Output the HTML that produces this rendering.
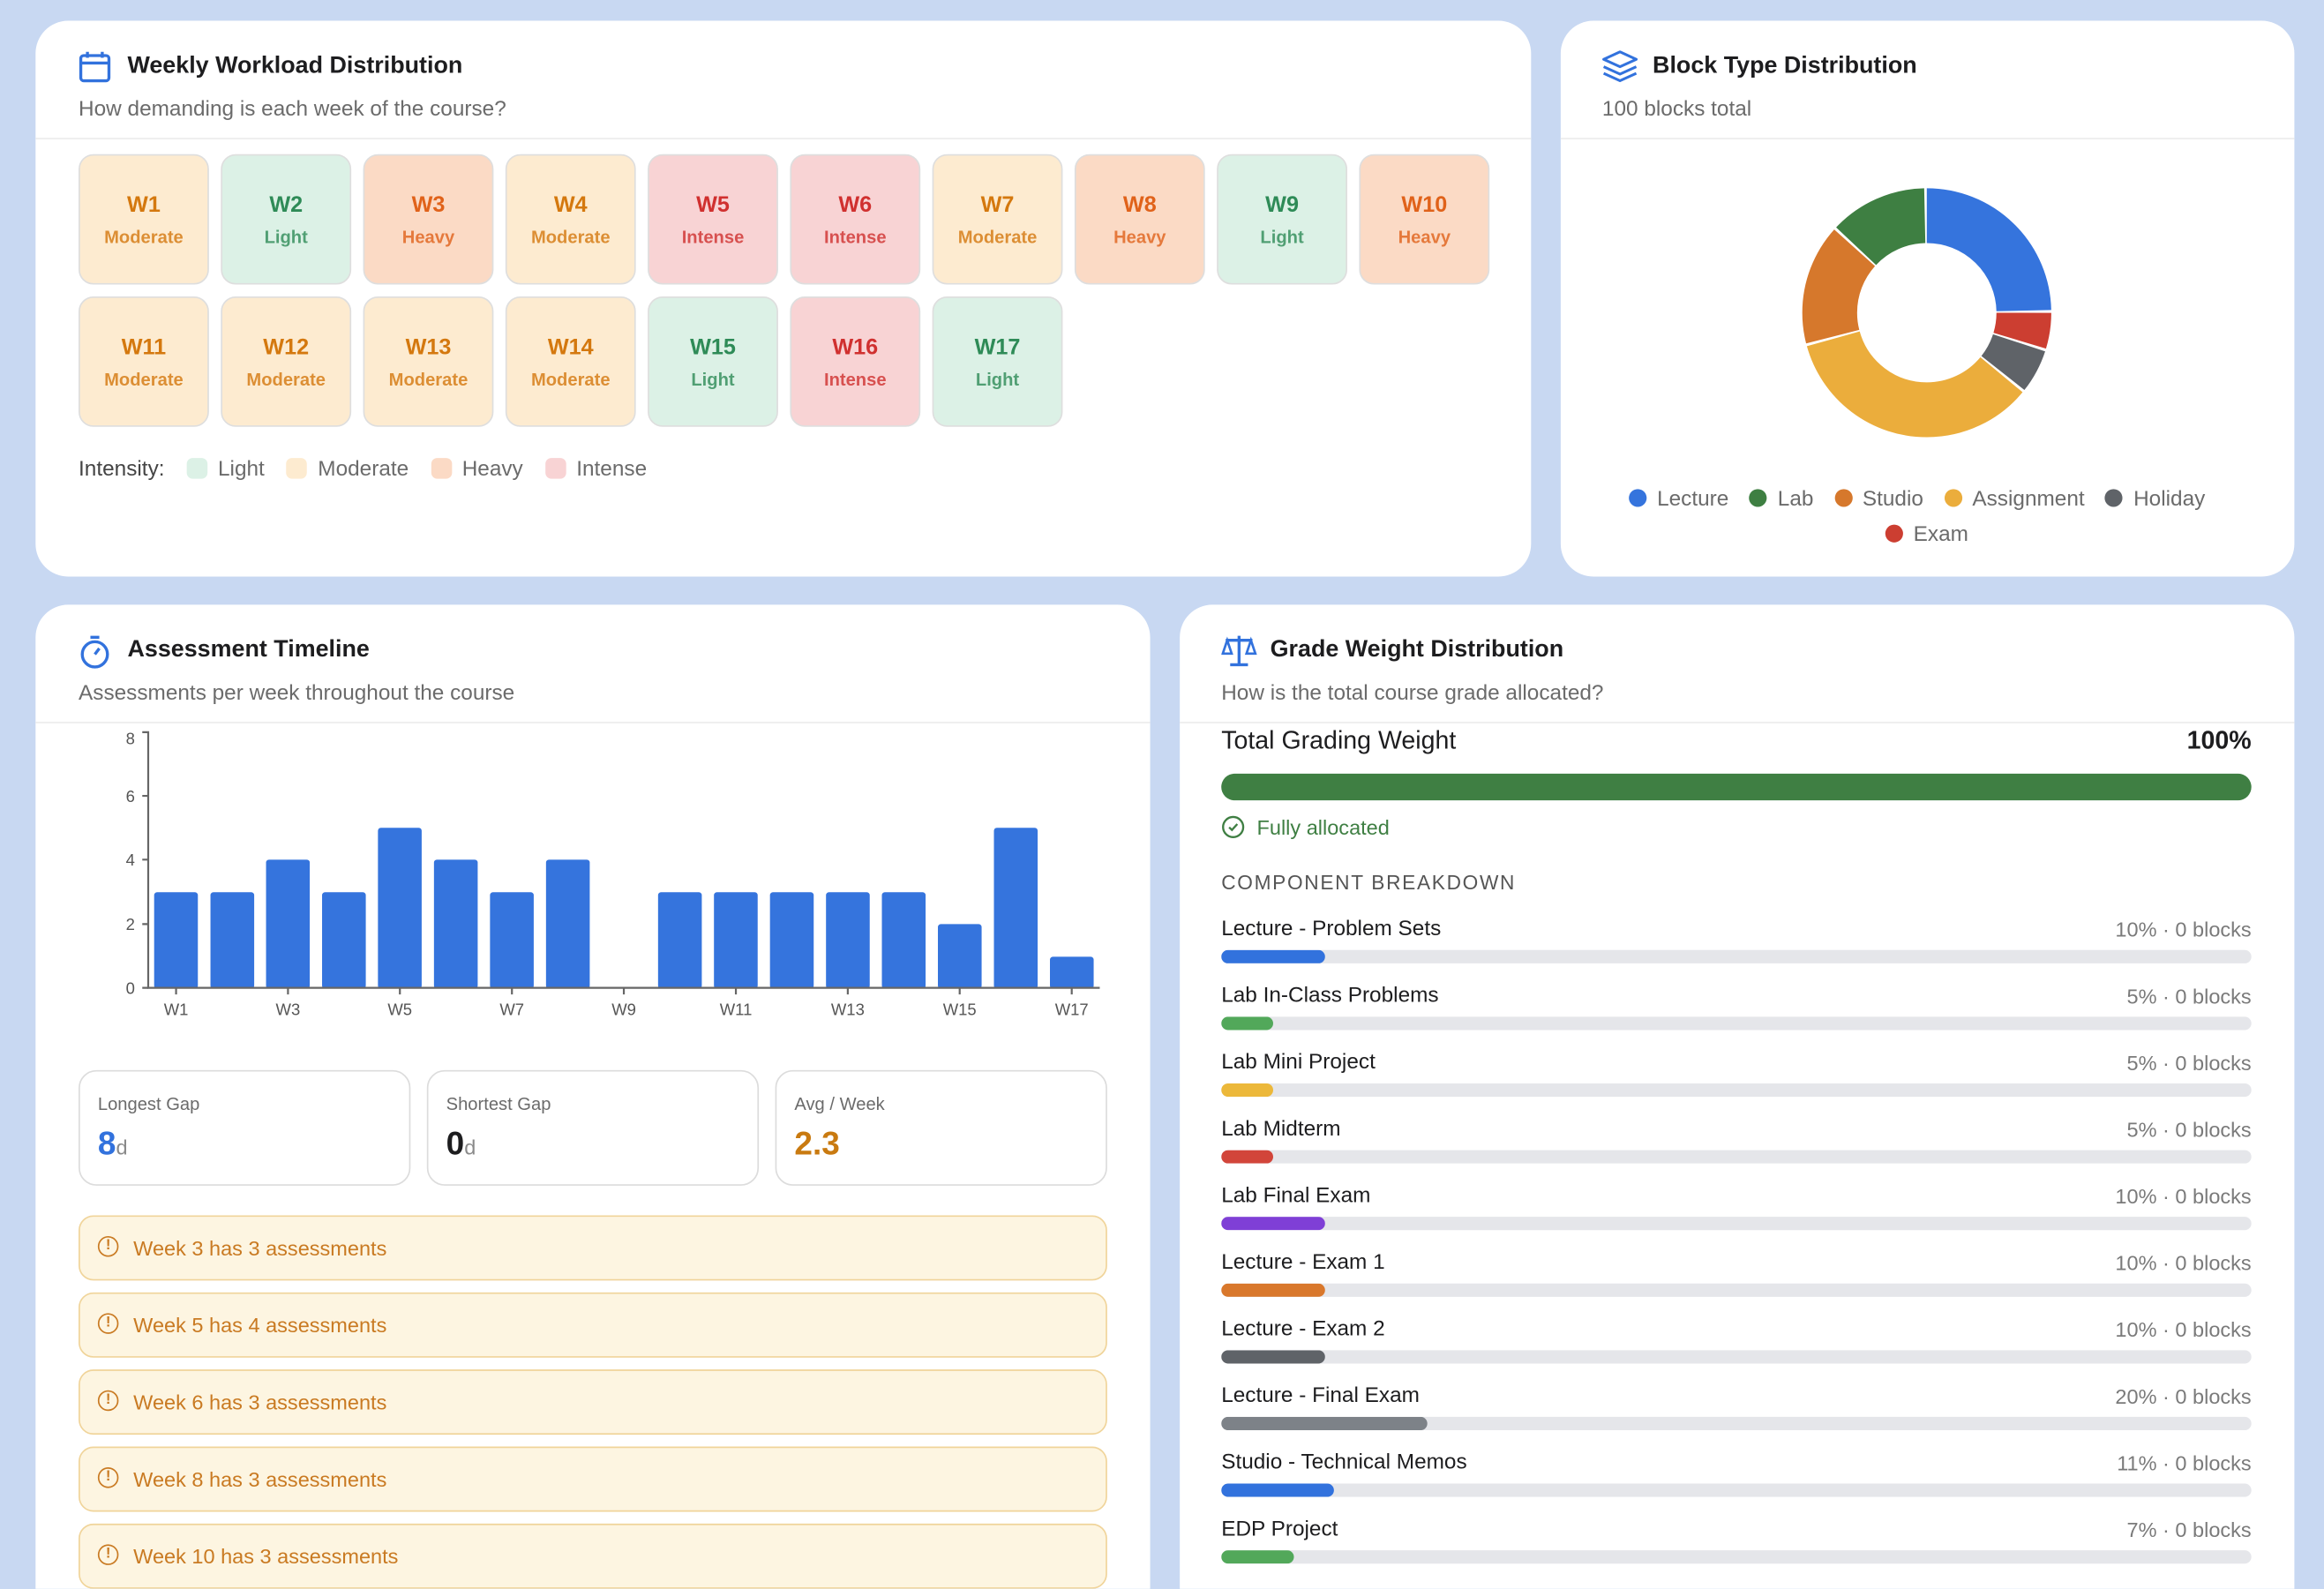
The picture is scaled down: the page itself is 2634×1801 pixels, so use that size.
<!DOCTYPE html>
<html><head><meta charset="utf-8"><style>
html,body{margin:0;padding:0;overflow:hidden;background:#c8d8f2;width:2634px;height:1800px}
#s{position:absolute;left:0;top:0;width:1568px;height:1072px;overflow:hidden;transform:scale(1.67985);transform-origin:0 0;font-family:"Liberation Sans",sans-serif;color:#1d1d1f}
.a{position:absolute}
.card{position:absolute;background:#fff;border-radius:22px}
.t{position:absolute;font-size:16px;font-weight:bold;color:#1d1d1f;white-space:nowrap}
.sub{position:absolute;font-size:14.5px;color:#6b6b6b;white-space:nowrap}
.hr{position:absolute;height:1px;background:#ececec}
.tile{position:absolute;width:86px;height:86px;border-radius:10px;border:1px solid #dedede;text-align:center}
.tile b{display:block;margin-top:25px;font-size:15px}
.tile span{display:block;margin-top:6px;font-size:12px;font-weight:bold;opacity:.8}
.M{background:#fdebd0;color:#d4780e}.L{background:#dcf1e6;color:#2e8b57}.H{background:#fbdac5;color:#e0621a}.I{background:#f8d3d4;color:#d0302f}
.lg{position:absolute;font-size:14.5px;color:#6b6b6b;white-space:nowrap}
.sw{display:inline-block;width:14px;height:14px;border-radius:4px;vertical-align:-2px;margin:0 7px 0 15px}
.dot{display:inline-block;width:12px;height:12px;border-radius:50%;vertical-align:-1px;margin:0 7px 0 14px}
.stat{position:absolute;top:722px;width:222px;height:76px;border:1px solid #dcdcdc;border-radius:12px}
.stat .l{position:absolute;left:12px;top:15px;font-size:12px;color:#6b6b6b}
.stat .v{position:absolute;left:12px;top:36px;font-size:22px;font-weight:bold}
.stat .v small{font-size:14px;font-weight:normal;color:#8a8a8a}
.al{position:absolute;left:53px;width:692px;height:42px;background:#fdf5e1;border:1px solid #f0d49a;border-radius:10px;color:#c97a22;font-size:14px}
.al i{position:absolute;left:12px;top:13px;width:12px;height:12px;border:1.5px solid #c97a22;border-radius:50%;font-style:normal;font-size:10px;line-height:12px;text-align:center;font-weight:bold}
.al span{position:absolute;left:36px;top:13px}
.row{position:absolute;left:824px;width:695px;height:40px}
.row .n{position:absolute;left:0;top:0;font-size:14.5px;color:#1d1d1f}
.row .p{position:absolute;right:0;top:0;font-size:14px;color:#7a7a7a}
.row .tr{position:absolute;left:0;top:15px;width:695px;height:9px;border-radius:5px;background:#e5e6ea;overflow:hidden}
.row .f{height:9px;border-radius:5px}
</style></head><body><div id="s">

<!-- Card 1 -->
<div class="card" style="left:24px;top:14px;width:1009px;height:375px"></div>
<svg class="a" style="left:53px;top:34px" width="22" height="22" viewBox="0 0 22 22"><rect x="1.5" y="3.5" width="19" height="17" rx="2" fill="none" stroke="#3272dd" stroke-width="2"/><line x1="1.5" y1="8.5" x2="20.5" y2="8.5" stroke="#3272dd" stroke-width="2"/><line x1="6" y1="1" x2="6" y2="5" stroke="#3272dd" stroke-width="2"/><line x1="16" y1="1" x2="16" y2="5" stroke="#3272dd" stroke-width="2"/></svg>
<div class="t" style="left:86px;top:36px">Weekly Workload Distribution</div>
<div class="sub" style="left:53px;top:66px">How demanding is each week of the course?</div>
<div class="hr" style="left:24px;top:93px;width:1009px"></div>

<div class="tile M" style="left:53px;top:104px"><b>W1</b><span>Moderate</span></div>
<div class="tile L" style="left:149px;top:104px"><b>W2</b><span>Light</span></div>
<div class="tile H" style="left:245px;top:104px"><b>W3</b><span>Heavy</span></div>
<div class="tile M" style="left:341px;top:104px"><b>W4</b><span>Moderate</span></div>
<div class="tile I" style="left:437px;top:104px"><b>W5</b><span>Intense</span></div>
<div class="tile I" style="left:533px;top:104px"><b>W6</b><span>Intense</span></div>
<div class="tile M" style="left:629px;top:104px"><b>W7</b><span>Moderate</span></div>
<div class="tile H" style="left:725px;top:104px"><b>W8</b><span>Heavy</span></div>
<div class="tile L" style="left:821px;top:104px"><b>W9</b><span>Light</span></div>
<div class="tile H" style="left:917px;top:104px"><b>W10</b><span>Heavy</span></div>
<div class="tile M" style="left:53px;top:200px"><b>W11</b><span>Moderate</span></div>
<div class="tile M" style="left:149px;top:200px"><b>W12</b><span>Moderate</span></div>
<div class="tile M" style="left:245px;top:200px"><b>W13</b><span>Moderate</span></div>
<div class="tile M" style="left:341px;top:200px"><b>W14</b><span>Moderate</span></div>
<div class="tile L" style="left:437px;top:200px"><b>W15</b><span>Light</span></div>
<div class="tile I" style="left:533px;top:200px"><b>W16</b><span>Intense</span></div>
<div class="tile L" style="left:629px;top:200px"><b>W17</b><span>Light</span></div>

<div class="lg" style="left:53px;top:309px"><span style="color:#444">Intensity:</span><span class="sw" style="background:#dcf1e6"></span>Light<span class="sw" style="background:#fdebd0"></span>Moderate<span class="sw" style="background:#fbdac5"></span>Heavy<span class="sw" style="background:#f8d3d4"></span>Intense</div>

<!-- Card 2 -->
<div class="card" style="left:1053px;top:14px;width:495px;height:375px"></div>
<svg class="a" style="left:1081px;top:34px" width="24" height="22" viewBox="0 0 24 22"><path d="M12 1 L23 6 L12 11 L1 6 Z" fill="none" stroke="#3272dd" stroke-width="1.8" stroke-linejoin="round"/><path d="M1 11 L12 16 L23 11" fill="none" stroke="#3272dd" stroke-width="1.8" stroke-linejoin="round"/><path d="M1 15.5 L12 20.5 L23 15.5" fill="none" stroke="#3272dd" stroke-width="1.8" stroke-linejoin="round"/></svg>
<div class="t" style="left:1115px;top:36px">Block Type Distribution</div>
<div class="sub" style="left:1081px;top:66px">100 blocks total</div>
<div class="hr" style="left:1053px;top:93px;width:495px"></div>
<svg class="a" style="left:1200px;top:111px" width="200" height="200" viewBox="0 0 200 200">
<g transform="rotate(-90 100 100)" fill="none" stroke-width="37">
<circle cx="100" cy="100" r="65.5" stroke="#3574dd" stroke-dasharray="101.4 411.55" stroke-dashoffset="0"/>
<circle cx="100" cy="100" r="65.5" stroke="#cc3e31" stroke-dasharray="19.1 411.55" stroke-dashoffset="-102.9"/>
<circle cx="100" cy="100" r="65.5" stroke="#5f6368" stroke-dasharray="23.2 411.55" stroke-dashoffset="-123.5"/>
<circle cx="100" cy="100" r="65.5" stroke="#ebad3c" stroke-dasharray="142.5 411.55" stroke-dashoffset="-148.2"/>
<circle cx="100" cy="100" r="65.5" stroke="#d6782c" stroke-dasharray="64.3 411.55" stroke-dashoffset="-292.2"/>
<circle cx="100" cy="100" r="65.5" stroke="#3e7f42" stroke-dasharray="52 411.55" stroke-dashoffset="-358"/>
</g></svg>
<div class="lg" style="left:1085px;top:329px"><span class="dot" style="background:#3574dd"></span>Lecture<span class="dot" style="background:#3e7f42"></span>Lab<span class="dot" style="background:#d6782c"></span>Studio<span class="dot" style="background:#ebad3c"></span>Assignment<span class="dot" style="background:#5f6368"></span>Holiday</div>
<div class="lg" style="left:1258px;top:353px"><span class="dot" style="background:#cc3e31"></span>Exam</div>

<!-- Card 3 -->
<div class="card" style="left:24px;top:408px;width:752px;height:700px"></div>
<svg class="a" style="left:53px;top:428px" width="22" height="24" viewBox="0 0 22 24"><circle cx="11" cy="13.5" r="8.5" fill="none" stroke="#3272dd" stroke-width="2"/><line x1="8" y1="2" x2="14" y2="2" stroke="#3272dd" stroke-width="2"/><line x1="11" y1="13.5" x2="14" y2="9.5" stroke="#3272dd" stroke-width="2"/></svg>
<div class="t" style="left:86px;top:430px">Assessment Timeline</div>
<div class="sub" style="left:53px;top:460px">Assessments per week throughout the course</div>
<div class="hr" style="left:24px;top:487px;width:752px"></div>
<svg class="a" style="left:0;top:0" width="780" height="700" font-family="Liberation Sans, sans-serif" font-size="11" fill="#555">
<g fill="#3574dd">
<rect x="104" y="602" width="29.5" height="65" rx="2"/>
<rect x="142" y="602" width="29.5" height="65" rx="2"/>
<rect x="179.5" y="580" width="29.5" height="87" rx="2"/>
<rect x="217.3" y="602" width="29.5" height="65" rx="2"/>
<rect x="255" y="558.5" width="29.5" height="108.5" rx="2"/>
<rect x="292.8" y="580" width="29.5" height="87" rx="2"/>
<rect x="330.6" y="602" width="29.5" height="65" rx="2"/>
<rect x="368.4" y="580" width="29.5" height="87" rx="2"/>
<rect x="444" y="602" width="29.5" height="65" rx="2"/>
<rect x="481.7" y="602" width="29.5" height="65" rx="2"/>
<rect x="519.5" y="602" width="29.5" height="65" rx="2"/>
<rect x="557.3" y="602" width="29.5" height="65" rx="2"/>
<rect x="595" y="602" width="29.5" height="65" rx="2"/>
<rect x="632.8" y="623.5" width="29.5" height="43.5" rx="2"/>
<rect x="670.6" y="558.5" width="29.5" height="108.5" rx="2"/>
<rect x="708.4" y="645.5" width="29.5" height="21.5" rx="2"/>
</g>
<g stroke="#666" stroke-width="1.3" fill="none">
<path d="M96 494 H100 V666.5 H742"/>
<path d="M96 537 H100 M96 580 H100 M96 623.5 H100 M96 666.5 H100"/>
<path d="M118.8 667 V671 M194.3 667 V671 M269.8 667 V671 M345.4 667 V671 M420.9 667 V671 M496.5 667 V671 M572 667 V671 M647.5 667 V671 M723.1 667 V671"/>
</g>
<g text-anchor="end"><text x="91" y="502">8</text><text x="91" y="541">6</text><text x="91" y="584">4</text><text x="91" y="627.5">2</text><text x="91" y="670.5">0</text></g>
<g text-anchor="middle"><text x="118.8" y="685">W1</text><text x="194.3" y="685">W3</text><text x="269.8" y="685">W5</text><text x="345.4" y="685">W7</text><text x="420.9" y="685">W9</text><text x="496.5" y="685">W11</text><text x="572" y="685">W13</text><text x="647.5" y="685">W15</text><text x="723.1" y="685">W17</text></g>
</svg>
<div class="stat" style="left:53px"><div class="l">Longest Gap</div><div class="v" style="color:#3272dd">8<small>d</small></div></div>
<div class="stat" style="left:288px"><div class="l">Shortest Gap</div><div class="v" style="color:#1d1d1f">0<small>d</small></div></div>
<div class="stat" style="left:523px"><div class="l">Avg / Week</div><div class="v" style="color:#c97a10">2.3</div></div>
<div class="al" style="top:820px"><i>!</i><span>Week 3 has 3 assessments</span></div>
<div class="al" style="top:872px"><i>!</i><span>Week 5 has 4 assessments</span></div>
<div class="al" style="top:924px"><i>!</i><span>Week 6 has 3 assessments</span></div>
<div class="al" style="top:976px"><i>!</i><span>Week 8 has 3 assessments</span></div>
<div class="al" style="top:1028px"><i>!</i><span>Week 10 has 3 assessments</span></div>

<!-- Card 4 -->
<div class="card" style="left:796px;top:408px;width:752px;height:700px"></div>
<svg class="a" style="left:824px;top:428px" width="24" height="22" viewBox="0 0 24 22"><line x1="12" y1="1" x2="12" y2="20" stroke="#3272dd" stroke-width="2"/><line x1="3" y1="4" x2="21" y2="4" stroke="#3272dd" stroke-width="2"/><line x1="6" y1="20.5" x2="18" y2="20.5" stroke="#3272dd" stroke-width="2"/><path d="M4 4 L1 13 H7 Z M20 4 L17 13 H23 Z" fill="none" stroke="#3272dd" stroke-width="1.6"/></svg>
<div class="t" style="left:857px;top:430px">Grade Weight Distribution</div>
<div class="sub" style="left:824px;top:460px">How is the total course grade allocated?</div>
<div class="hr" style="left:796px;top:487px;width:752px"></div>
<div class="a" style="left:824px;top:490px;font-size:17px">Total Grading Weight</div>
<div class="a" style="left:1440px;width:79px;text-align:right;top:490px;font-size:17px;font-weight:bold">100%</div>
<div class="a" style="left:824px;top:522px;width:695px;height:18px;border-radius:9px;background:#3f7f43"></div>
<svg class="a" style="left:824px;top:550px" width="16" height="16" viewBox="0 0 16 16"><circle cx="8" cy="8" r="6.8" fill="none" stroke="#3f7f43" stroke-width="1.4"/><path d="M5.3 8.2 L7.2 10 L10.8 6" fill="none" stroke="#3f7f43" stroke-width="1.4"/></svg>
<div class="a" style="left:848px;top:550px;font-size:14px;color:#3f7f43">Fully allocated</div>
<div class="a" style="left:824px;top:588px;font-size:13.5px;color:#555;letter-spacing:1px">COMPONENT BREAKDOWN</div>

<div class="row" style="top:619px"><div class="n">Lecture - Problem Sets</div><div class="p">10% · 0 blocks</div><div class="tr" style="top:22px"><div class="f" style="width:70px;background:#3272dd"></div></div></div>
<div class="row" style="top:664px"><div class="n">Lab In-Class Problems</div><div class="p">5% · 0 blocks</div><div class="tr" style="top:22px"><div class="f" style="width:35px;background:#52a85a"></div></div></div>
<div class="row" style="top:709px"><div class="n">Lab Mini Project</div><div class="p">5% · 0 blocks</div><div class="tr" style="top:22px"><div class="f" style="width:35px;background:#ecb83a"></div></div></div>
<div class="row" style="top:754px"><div class="n">Lab Midterm</div><div class="p">5% · 0 blocks</div><div class="tr" style="top:22px"><div class="f" style="width:35px;background:#d2453a"></div></div></div>
<div class="row" style="top:799px"><div class="n">Lab Final Exam</div><div class="p">10% · 0 blocks</div><div class="tr" style="top:22px"><div class="f" style="width:70px;background:#7f3fd6"></div></div></div>
<div class="row" style="top:844px"><div class="n">Lecture - Exam 1</div><div class="p">10% · 0 blocks</div><div class="tr" style="top:22px"><div class="f" style="width:70px;background:#d9782c"></div></div></div>
<div class="row" style="top:889px"><div class="n">Lecture - Exam 2</div><div class="p">10% · 0 blocks</div><div class="tr" style="top:22px"><div class="f" style="width:70px;background:#5f6368"></div></div></div>
<div class="row" style="top:934px"><div class="n">Lecture - Final Exam</div><div class="p">20% · 0 blocks</div><div class="tr" style="top:22px"><div class="f" style="width:139px;background:#7d8288"></div></div></div>
<div class="row" style="top:979px"><div class="n">Studio - Technical Memos</div><div class="p">11% · 0 blocks</div><div class="tr" style="top:22px"><div class="f" style="width:76px;background:#3272dd"></div></div></div>
<div class="row" style="top:1024px"><div class="n">EDP Project</div><div class="p">7% · 0 blocks</div><div class="tr" style="top:22px"><div class="f" style="width:49px;background:#52a85a"></div></div></div>

</div></body></html>
